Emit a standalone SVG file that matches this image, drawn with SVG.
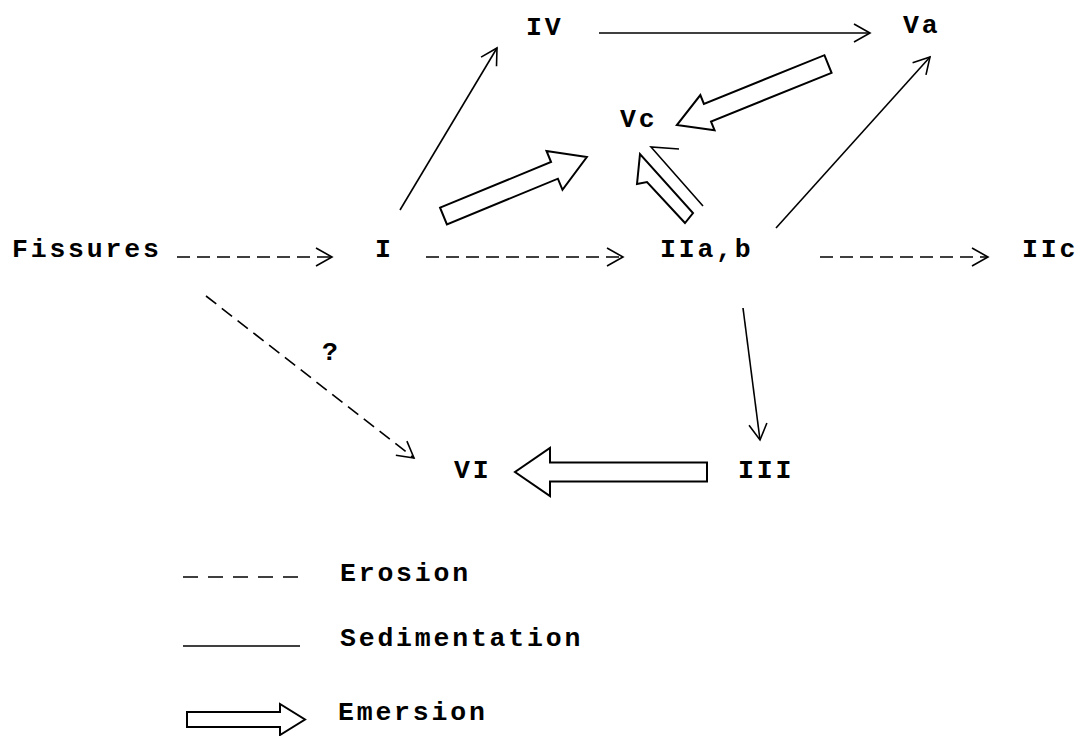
<svg xmlns="http://www.w3.org/2000/svg" width="1082" height="736" viewBox="0 0 1082 736">
<style>
text{font-family:"Liberation Mono","DejaVu Sans Mono",monospace;font-weight:bold;font-size:26.5px;letter-spacing:2.8px;fill:#000}
.ln{fill:none;stroke:#000;stroke-width:1.6}
.da{stroke-dasharray:13 7}
.em{fill:#fff;stroke:#000;stroke-width:2;stroke-linejoin:miter}
</style>
<defs>
<marker id="oa" markerUnits="userSpaceOnUse" markerWidth="40" markerHeight="40" viewBox="-20 -20 40 40" refX="0" refY="0" orient="auto" overflow="visible">
<path d="M-16,-9 L0,0 L-16,9" fill="none" stroke="#000" stroke-width="1.6" stroke-dasharray="none"/>
</marker>
</defs>
<rect width="1082" height="736" fill="#fff"/>
<g id="connectors">
<line class="ln" x1="599" y1="33" x2="870" y2="33" marker-end="url(#oa)"/>
<line class="ln" x1="400" y1="210" x2="497" y2="48" marker-end="url(#oa)"/>
<line class="ln" x1="776" y1="228" x2="930" y2="57" marker-end="url(#oa)"/>
<line class="ln" x1="743" y1="308" x2="760" y2="440" marker-end="url(#oa)"/>
<line class="ln da" x1="177" y1="257" x2="332" y2="257" marker-end="url(#oa)"/>
<line class="ln da" x1="426" y1="257" x2="623" y2="257" marker-end="url(#oa)"/>
<line class="ln da" x1="820" y1="257" x2="988" y2="257" marker-end="url(#oa)"/>
<line class="ln da" x1="206" y1="296" x2="414" y2="458" marker-end="url(#oa)"/>
<path class="em" transform="translate(828,64) rotate(158)" d="M0,-9.5 L130,-9.5 L130,-19 L163,0 L130,19 L130,9.5 L0,9.5 Z"/>
<path class="em" transform="translate(443.5,216) rotate(-22.35)" d="M0,-9 L120,-9 L120,-21 L155,0 L120,21 L120,9 L0,9 Z"/>
<path class="em" d="M685,223 L647,182 L637,184 L640,154 L693,213 Z"/>
<polyline class="ln" points="703,206 651,147 679,149"/>
<path class="em" d="M707,462.5 L550,462.5 L550,448 L515,472 L550,496 L550,481.5 L707,481.5 Z"/>
</g>
<g id="node-IV"><text x="526" y="35">IV</text></g>
<g id="node-Va"><text x="903" y="33">Va</text></g>
<g id="node-Vc"><text x="620" y="127">Vc</text></g>
<g id="node-Fissures"><text x="12" y="257">Fissures</text></g>
<g id="node-I"><text x="375" y="257">I</text></g>
<g id="node-IIab"><text x="660" y="257">IIa,b</text></g>
<g id="node-IIc"><text x="1022" y="257">IIc</text></g>
<g id="label-q"><text x="322" y="360">?</text></g>
<g id="node-VI"><text x="454" y="478">VI</text></g>
<g id="node-III"><text x="738" y="478">III</text></g>
<g id="legend">
<line class="ln" x1="183" y1="577" x2="300" y2="577" stroke-dasharray="15 10"/>
<text x="340" y="581">Erosion</text>
<line class="ln" x1="183" y1="646" x2="300" y2="646"/>
<text x="340" y="646">Sedimentation</text>
<path class="em" d="M187,712 L280,712 L280,704 L305,719.5 L280,735 L280,727 L187,727 Z"/>
<text x="338" y="720">Emersion</text>
</g>
</svg>
